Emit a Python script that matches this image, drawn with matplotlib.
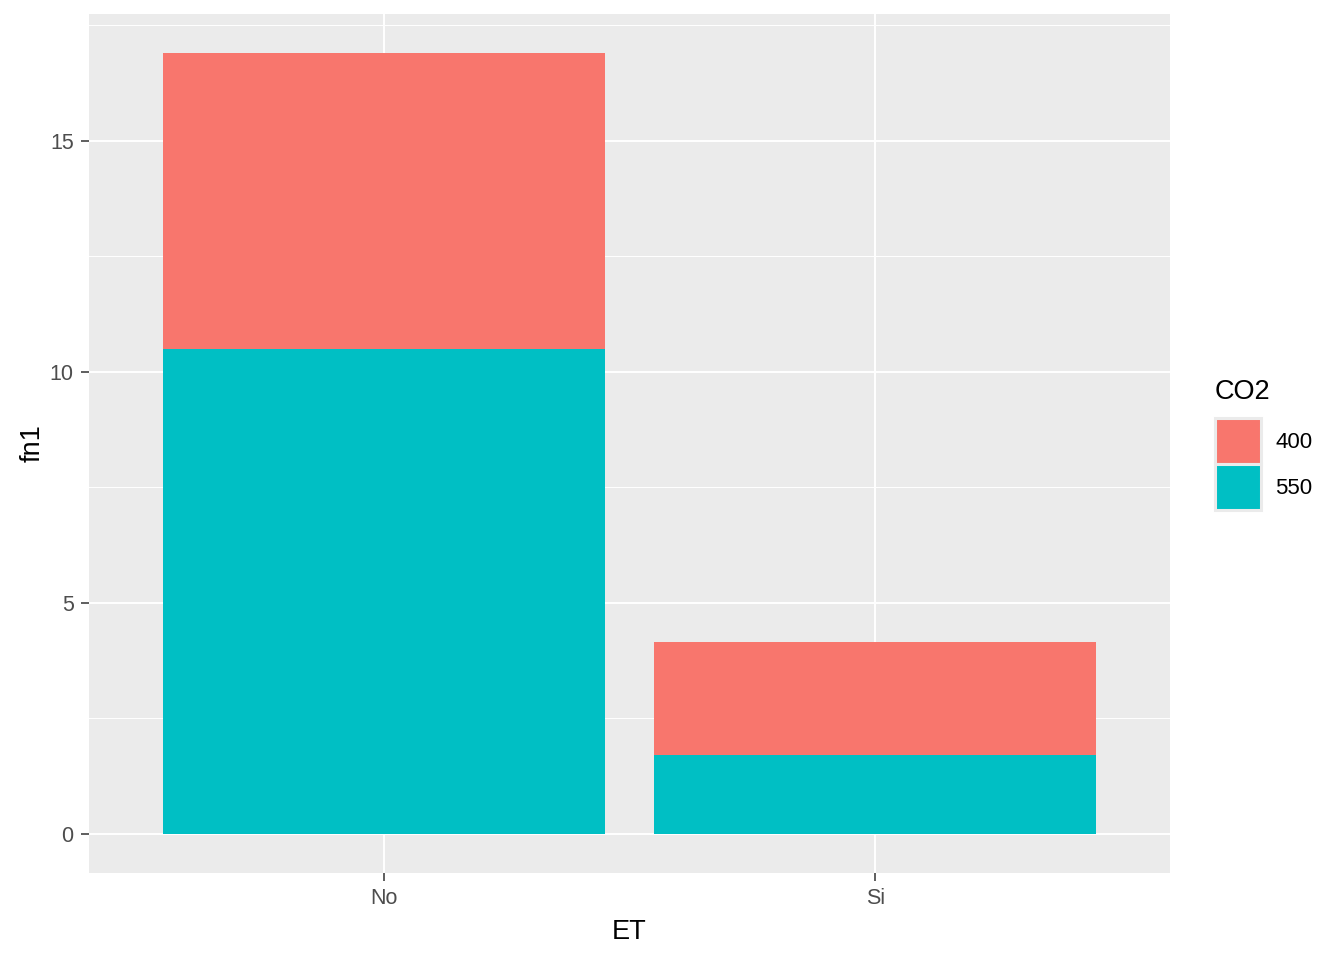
import matplotlib
matplotlib.use('Agg')
import matplotlib.pyplot as plt
import numpy as np
from matplotlib.patches import Patch

plt.rcParams['font.family'] = ['Liberation Sans', 'DejaVu Sans']

# data
categories = ['No', 'Si']
co2_levels = ['400', '550']
fn1_550 = [10.5, 1.7]
fn1_400 = [6.4, 2.45]
colors = {'400': '#F8766D', '550': '#00BFC4'}

fig = plt.figure(figsize=(13.44, 9.6), dpi=100)
ax = fig.add_axes([89/1344, 87/960, (1170-89)/1344, (873-14)/960])
ax.set_facecolor('#EBEBEB')

x = np.arange(1, len(categories) + 1)
ax.bar(x, fn1_550, width=0.9, color=colors['550'], zorder=3)
ax.bar(x, fn1_400, width=0.9, bottom=fn1_550, color=colors['400'], zorder=3)

totals = np.array(fn1_550) + np.array(fn1_400)
top = totals.max()
ax.set_ylim(-0.05 * top, top * 1.05)
ax.set_xlim(0.4, len(categories) + 0.6)

ax.set_xticks(x)
ax.set_xticklabels(categories)
ax.set_yticks([0, 5, 10, 15])
ax.set_yticks([2.5, 7.5, 12.5, 17.5], minor=True)
ax.grid(True, which='major', color='white', linewidth=1.4, zorder=0)
ax.grid(True, which='minor', axis='y', color='white', linewidth=0.7, zorder=0)
ax.set_axisbelow(True)
for s in ax.spines.values():
    s.set_visible(False)
ax.tick_params(which='major', length=6, width=1.1, color='#333333',
               labelcolor='#4D4D4D', labelsize=15.5, pad=5)
ax.tick_params(which='minor', length=0)

ax.set_xlabel('ET', fontsize=19.5, color='black', labelpad=7)
ax.set_ylabel('fn1', fontsize=19.5, color='black', labelpad=3)

# legend: title as separate text, keys with grey92 background border
fig.text(1215/1344, 1 - 392/960, 'CO2', fontsize=19.5, ha='left', va='center')
handles = [Patch(facecolor=colors[k], edgecolor='#EBEBEB', linewidth=2.2, label=k)
           for k in co2_levels]
leg = fig.legend(handles=handles, loc='upper left',
                 bbox_to_anchor=(1215/1344, 1 - 418/960), frameon=False,
                 fontsize=16, handlelength=2.07, handleheight=2.808,
                 handletextpad=0.65, labelspacing=0,
                 borderpad=0, borderaxespad=0)

fig.savefig('out.png', dpi=100)
